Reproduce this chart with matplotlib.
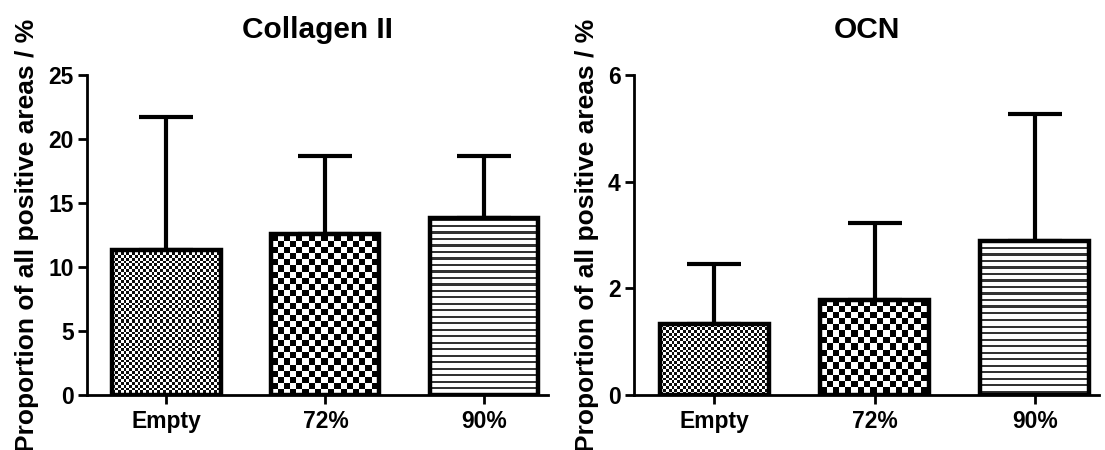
import numpy as np
import matplotlib
matplotlib.use("Agg")
import matplotlib.pyplot as plt

plt.rcParams['font.family'] = ['Liberation Sans', 'DejaVu Sans']
plt.rcParams['font.weight'] = 'bold'

# ---- data ----
categories = ["Empty", "72%", "90%"]
collagen_mean = [11.35, 12.55, 13.8]
collagen_upper = [21.7, 18.65, 18.65]
ocn_mean = [1.33, 1.79, 2.89]
ocn_upper = [2.46, 3.22, 5.27]
titles = ["Collagen II", "OCN"]
ylabel = "Proportion of all positive areas / %"
collagen_yticks = [0, 5, 10, 15, 20, 25]
ocn_yticks = [0, 2, 4, 6]

W, H, DPI = 1105, 450, 100
fig = plt.figure(figsize=(W / DPI, H / DPI), dpi=DPI)

ax1 = fig.add_axes([87 / W, 1 - 395 / H, 461 / W, 320 / H])
ax2 = fig.add_axes([634 / W, 1 - 395 / H, 465 / W, 320 / H])

BAR_W = 0.68


def pattern(kind, nrow, ncol):
    i = np.arange(nrow)[:, None]
    j = np.arange(ncol)[None, :]
    if kind == "fine":
        c = 2.8
        v = ((np.floor(i / c) + np.floor(j / c)) % 2).astype(float)
        v = 0.05 + 0.95 * v
    elif kind == "coarse":
        c = 6.2
        v = ((np.floor(i / c) + np.floor(j / c)) % 2).astype(float)
    else:
        per = 6.48
        ph = (i % per)
        dark = (ph < 2.2).astype(float)
        v = 1.0 - 0.8 * dark
        v = np.broadcast_to(v, (nrow, ncol)).copy()
    return v


kinds = ["fine", "coarse", "lines"]


def draw(ax, means, upper, title, yticks, ylim, label_dx):
    x = np.arange(len(categories))
    ax.set_xlim(-0.5, 2.4)
    ax.set_ylim(*ylim)
    err = np.array(upper) - np.array(means)
    ax.errorbar(x, means, yerr=[np.zeros_like(err), err], fmt='none',
                ecolor='black', elinewidth=3, capsize=19.5, capthick=3,
                zorder=1)
    bars = ax.bar(x, means, width=BAR_W, color='white', edgecolor='none',
                  zorder=2)
    for xi, m, b, k in zip(x, means, bars, kinds):
        (px0, py0) = ax.transData.transform((xi - BAR_W / 2, 0))
        (px1, py1) = ax.transData.transform((xi + BAR_W / 2, m))
        ncol = max(1, int(round(px1 - px0)))
        nrow = max(1, int(round(py1 - py0)))
        img = pattern(k, nrow, ncol)
        im = ax.imshow(img, cmap='gray', vmin=0, vmax=1,
                       extent=(xi - BAR_W / 2, xi + BAR_W / 2, 0, m),
                       interpolation='nearest', aspect='auto', zorder=2.5)
        im.set_clip_path(b)
    ax.bar(x, means, width=BAR_W, fill=False, edgecolor='black',
           linewidth=3.2, zorder=3)
    ax.set_xlim(-0.5, 2.4)
    ax.set_ylim(*ylim)
    ax.set_xticks(x)
    ax.set_xticklabels(categories, fontsize=16.5, fontweight='bold')
    ax.set_yticks(yticks)
    ax.set_yticklabels([str(t) for t in yticks], fontsize=16.5,
                       fontweight='bold')
    ax.tick_params(direction='out', length=6.5, width=2, pad=3)
    ax.tick_params(axis='x', pad=4)
    for s in ['top', 'right']:
        ax.spines[s].set_visible(False)
    for s in ['left', 'bottom']:
        ax.spines[s].set_linewidth(2)
    ax.set_title(title, fontsize=21.5, fontweight='bold', pad=26.5)
    ax.set_ylabel(ylabel, fontsize=19, fontweight='bold')
    ax.yaxis.set_label_coords(label_dx, 0.5)
    ax.yaxis.label.set_va('center')


draw(ax1, collagen_mean, collagen_upper, titles[0], collagen_yticks,
     (0, 25), -59.5 / 461)
draw(ax2, ocn_mean, ocn_upper, titles[1], ocn_yticks, (0, 6), -47 / 465)

fig.savefig("out.png", dpi=DPI)
